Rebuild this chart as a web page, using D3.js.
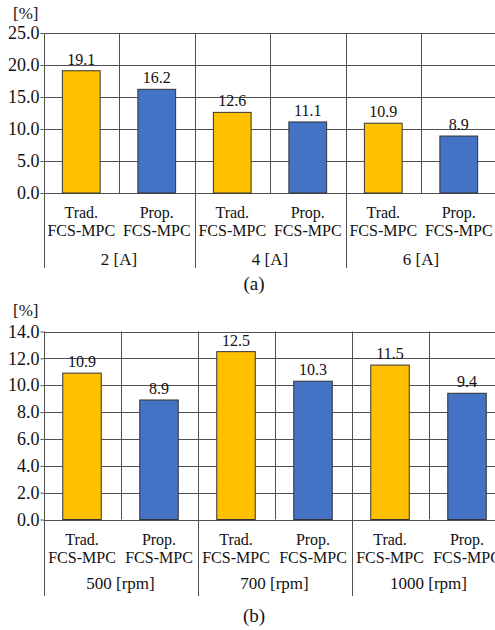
<!DOCTYPE html>
<html>
<head>
<meta charset="utf-8">
<script src="https://cdn.jsdelivr.net/npm/d3@7"></script>
<style>
  body { margin: 0; background: #fff; }
  svg text { font-family: "Liberation Serif", "Times New Roman", serif; fill: #111; }
</style>
</head>
<body>
<div id="chart"></div>
<script>
// data
var methods = ["Trad.", "Prop."];
var groupsA = ["2 [A]", "4 [A]", "6 [A]"];
var groupsB = ["500 [rpm]", "700 [rpm]", "1000 [rpm]"];
var valuesA = [19.1, 16.2, 12.6, 11.1, 10.9, 8.9];
var valuesB = [10.9, 8.9, 12.5, 10.3, 11.5, 9.4];
var ticksA = [0, 5, 10, 15, 20, 25];
var ticksB = [0, 2, 4, 6, 8, 10, 12, 14];

var colors = ["#FFC000", "#4472C4"];
var gridColor = "#505050";

var svg = d3.select("#chart").append("svg")
    .attr("width", 495)
    .attr("height", 630);

// one panel: top/bottom of the plot area, right end, group/method rows and caption
function drawPanel(opt) {
    var left = 43.5;
    var n = opt.groups.length * methods.length;
    var cats = d3.range(n);

    var x = d3.scaleBand().domain(cats).range([left, opt.right]).padding(0);
    var y = d3.scaleLinear().domain([0, opt.max]).range([opt.bottom, opt.top]);

    var g = svg.append("g");

    // horizontal grid
    g.selectAll("line.hgrid").data(opt.ticks)
        .enter().append("line")
        .attr("x1", left).attr("x2", opt.right)
        .attr("y1", function (d) { return Math.round(y(d)) + 0.5; })
        .attr("y2", function (d) { return Math.round(y(d)) + 0.5; })
        .style("stroke", gridColor).style("stroke-width", 1);

    // vertical grid, group separators go down through the label rows
    g.selectAll("line.vgrid").data(d3.range(n + 1))
        .enter().append("line")
        .attr("x1", function (i) { return Math.round(i < n ? x(i) : opt.right) + 0.5; })
        .attr("x2", function (i) { return Math.round(i < n ? x(i) : opt.right) + 0.5; })
        .attr("y1", y(opt.max))
        .attr("y2", function (i) { return i % 2 == 0 ? opt.sepBottom : y(0); })
        .style("stroke", gridColor).style("stroke-width", 1);

    // y axis labels
    var axis = d3.axisLeft(y).tickValues(opt.ticks)
        .tickFormat(d3.format(".1f")).tickSize(3).tickPadding(1);
    var ax = g.append("g")
        .attr("transform", "translate(" + left + ",0)")
        .call(axis);
    ax.select(".domain").remove();
    ax.selectAll("line").style("stroke", gridColor);
    ax.selectAll("text")
        .style("font-family", '"Liberation Serif", serif')
        .style("font-size", "18px")
        .style("fill", "#111");

    // bars
    var bw = x.bandwidth() / 2;
    g.selectAll("rect.bar").data(opt.values)
        .enter().append("rect")
        .attr("x", function (d, i) { return x(i) + bw / 2; })
        .attr("y", function (d) { return y(d); })
        .attr("width", bw)
        .attr("height", function (d) { return y(0) - y(d); })
        .style("fill", function (d, i) { return colors[i % 2]; })
        .style("stroke", "#333")
        .style("stroke-width", 1);

    // value labels
    g.selectAll("text.val").data(opt.values)
        .enter().append("text")
        .attr("x", function (d, i) { return x(i) + x.bandwidth() / 2; })
        .attr("y", function (d) { return y(d) - 6; })
        .attr("text-anchor", "middle")
        .style("font-size", "16px")
        .text(function (d) { return d3.format(".1f")(d); });

    // method labels (two lines)
    cats.forEach(function (i) {
        var cx = x(i) + x.bandwidth() / 2;
        g.append("text").attr("x", cx).attr("y", opt.row1)
            .attr("text-anchor", "middle").style("font-size", "16px")
            .text(methods[i % 2]);
        g.append("text").attr("x", cx).attr("y", opt.row2)
            .attr("text-anchor", "middle").style("font-size", "16px")
            .text("FCS-MPC");
    });

    // group labels
    opt.groups.forEach(function (name, k) {
        var cx = x(k * 2) + x.bandwidth();
        g.append("text").attr("x", cx).attr("y", opt.row3)
            .attr("text-anchor", "middle").style("font-size", "17px")
            .text(name);
    });

    // unit and caption
    g.append("text").attr("x", 13).attr("y", opt.unitY)
        .style("font-size", "17px").text("[%]");
    g.append("text").attr("x", 254).attr("y", opt.capY)
        .attr("text-anchor", "middle").style("font-size", "19px")
        .text(opt.caption);
}

drawPanel({
    groups: groupsA, values: valuesA, ticks: ticksA, max: 25,
    top: 33, bottom: 193, right: 496.5, sepBottom: 268,
    row1: 218, row2: 236, row3: 265, unitY: 19, capY: 290, caption: "(a)"
});

drawPanel({
    groups: groupsB, values: valuesB, ticks: ticksB, max: 14,
    top: 331.5, bottom: 519.5, right: 505.5, sepBottom: 596,
    row1: 545, row2: 563, row3: 589, unitY: 316, capY: 622, caption: "(b)"
});
</script>
</body>
</html>
